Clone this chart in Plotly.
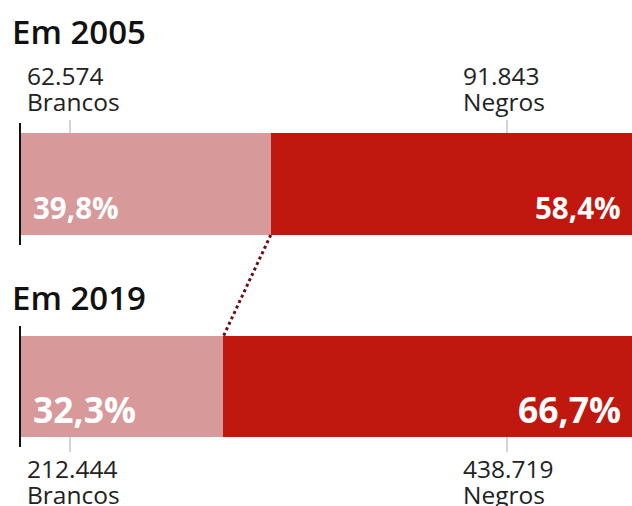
import plotly.graph_objects as go

years = ["Em 2005", "Em 2019"]
brancos_pct = [39.8, 32.3]
negros_pct = [58.4, 66.7]
brancos_n = ["62.574", "212.444"]
negros_n = ["91.843", "438.719"]
group_labels = ["Brancos", "Negros"]
pct_text_b = ["39,8%", "32,3%"]
pct_text_n = ["58,4%", "66,7%"]

LIGHT = "#d8999a"
RED = "#c0170e"
W, H = 632, 506
PX = 6.3        # pixels per percent
X0 = 20         # pixel of 0%

def xp(px):
    return (px - X0) / PX

bar_y = [184, 386.5]
bar_w = [102, 101]

fig = go.Figure()
fig.add_trace(go.Bar(orientation="h", y=bar_y, x=brancos_pct, width=bar_w,
                     marker=dict(color=LIGHT, line=dict(width=0)), hoverinfo="skip"))
fig.add_trace(go.Bar(orientation="h", y=bar_y, x=negros_pct, width=bar_w,
                     marker=dict(color=RED, line=dict(width=0)), hoverinfo="skip"))

ann = []
font = "Open Sans"
title_y = [31, 297]
for i, t in enumerate(years):
    ann.append(dict(x=xp(10), y=title_y[i], text=t, showarrow=False, xanchor="left",
                    yanchor="middle", font=dict(family=font, size=33, color="#111", weight=600)))

def label(xpx, ynum, num, grp):
    for txt, yy in ((num, ynum), (grp, ynum + 26)):
        ann.append(dict(x=xp(xpx), y=yy, text=txt, showarrow=False,
                        xanchor="left", yanchor="middle", align="left",
                        font=dict(family=font, size=24.5, color="#222")))

label(25, 75, brancos_n[0], group_labels[0])
label(461, 75, negros_n[0], group_labels[1])
label(25, 468, brancos_n[1], group_labels[0])
label(461, 468, negros_n[1], group_labels[1])

pct_y = [207, 409]
pct_size = [29.5, 35.5]
for i in range(2):
    ann.append(dict(x=xp(31), y=pct_y[i], text=pct_text_b[i], showarrow=False, xanchor="left",
                    yanchor="middle", font=dict(family=font, size=pct_size[i], color="white", weight=700)))
    ann.append(dict(x=xp(623), y=pct_y[i], text=pct_text_n[i], showarrow=False, xanchor="right",
                    yanchor="middle", font=dict(family=font, size=pct_size[i], color="white", weight=700)))

shapes = []
for yc, w in zip(bar_y, bar_w):
    shapes.append(dict(type="line", x0=xp(20), x1=xp(20), y0=yc - w / 2 - 10, y1=yc + w / 2 + 10,
                       line=dict(color="#111", width=2)))
for xpx in (70, 507):
    shapes.append(dict(type="line", x0=xp(xpx), x1=xp(xpx), y0=120, y1=bar_y[0] - bar_w[0] / 2,
                       line=dict(color="#aaa", width=1)))
    shapes.append(dict(type="line", x0=xp(xpx), x1=xp(xpx), y0=bar_y[1] + bar_w[1] / 2, y1=452,
                       line=dict(color="#aaa", width=1)))
shapes.append(dict(type="line", x0=brancos_pct[0], y0=bar_y[0] + bar_w[0] / 2,
                   x1=brancos_pct[1], y1=bar_y[1] - bar_w[1] / 2,
                   line=dict(color="#6b0f14", width=3, dash="dot")))

fig.update_layout(
    width=W, height=H, margin=dict(l=0, r=0, t=0, b=0),
    barmode="stack", showlegend=False, bargap=0,
    plot_bgcolor="white", paper_bgcolor="white",
    xaxis=dict(range=[xp(0), xp(W)], visible=False, fixedrange=True),
    yaxis=dict(range=[H, 0], visible=False, fixedrange=True),
    annotations=ann, shapes=shapes,
)
fig.write_html("out.html", config={"displayModeBar": False})
